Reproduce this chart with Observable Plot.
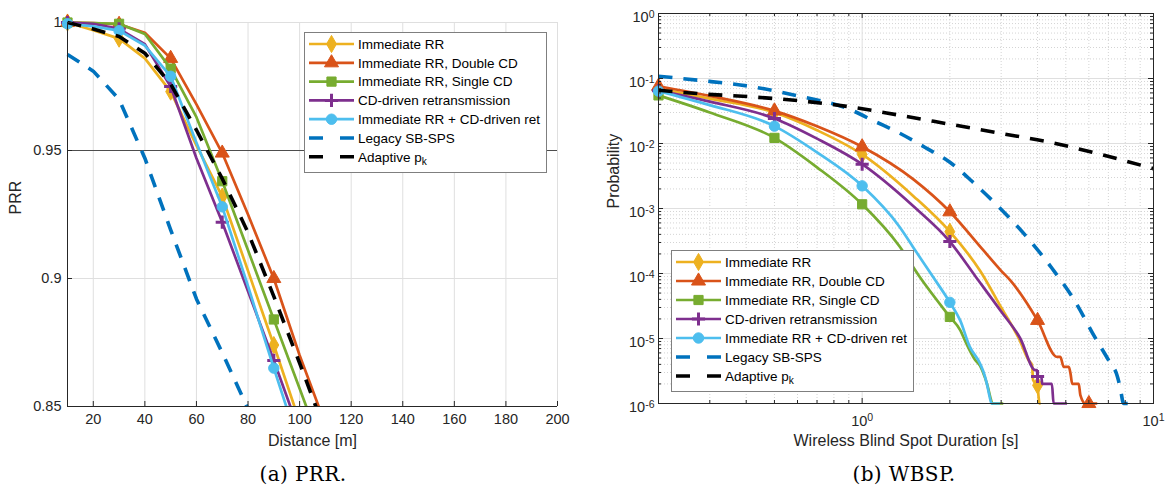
<!DOCTYPE html>
<html>
<head>
<meta charset="utf-8">
<script src="https://cdn.jsdelivr.net/npm/d3@7"></script>
<script src="https://cdn.jsdelivr.net/npm/@observablehq/plot@0.6"></script>
<style>
  html, body { margin: 0; padding: 0; background: #fff; }
  #page { position: relative; width: 1169px; height: 498px; overflow: hidden; }
  .panel { position: absolute; top: 0; }
  .caption {
    position: absolute; top: 474px; transform: translate(-50%, -50%);
    font-family: "DejaVu Serif", "Liberation Serif", serif; font-size: 20px; letter-spacing: 0.4px;
    color: #000; white-space: nowrap;
  }
</style>
</head>
<body>
<div id="page">
  <div class="panel" id="prr" style="left:0px"></div>
  <div class="panel" id="wbsp" style="left:580px"></div>
  <div class="caption" style="left:303px">(a) PRR.</div>
  <div class="caption" style="left:904px">(b) WBSP.</div>
</div>
<script>
// ---------------- Series styling (shared by both panels) ----------------
const seriesNames  = ["Immediate RR", "Immediate RR, Double CD", "Immediate RR, Single CD",
                      "CD-driven retransmission", "Immediate RR + CD-driven ret",
                      "Legacy SB-SPS", "Adaptive p_k"];
const seriesColors = ["#EDB120", "#D95319", "#77AC30", "#7E2F8E", "#4DBEEE", "#0072BD", "#000000"];
const seriesSymbols = ["diamond", "triangle", "square", "plus", "circle", null, null];
const seriesDashed  = [false, false, false, false, false, true, true];

// ---------------- (a) Packet reception ratio vs distance ----------------
const distance = [10, 20, 30, 40, 50, 60, 70, 80, 90, 100, 110];
const prrImmediateRR   = [1.0, 0.997, 0.9937, 0.986, 0.973, 0.952, 0.932, 0.903, 0.874, 0.844];
const prrDoubleCD      = [1.0, 0.9998, 0.9993, 0.996, 0.986, 0.968, 0.949, 0.925, 0.900, 0.870, 0.843];
const prrSingleCD      = [1.0, 0.9998, 0.9995, 0.9955, 0.982, 0.963, 0.938, 0.911, 0.884, 0.857, 0.830];
const prrCDDriven      = [1.0, 0.9995, 0.9975, 0.9915, 0.975, 0.947, 0.922, 0.895, 0.868, 0.840];
const prrImmediateCD   = [0.9995, 0.9985, 0.9968, 0.991, 0.979, 0.953, 0.928, 0.897, 0.865, 0.834];
const prrLegacy        = [0.9875, 0.981, 0.970, 0.947, 0.919, 0.892, 0.871, 0.849];
const prrAdaptive      = [1.0, 0.9975, 0.9945, 0.988, 0.976, 0.958, 0.939, 0.918, 0.893, 0.867, 0.840];
const prrMarkerDistances = [10, 30, 50, 70, 90];
const prrXTicks = [20, 40, 60, 80, 100, 120, 140, 160, 180, 200];
const prrYTicks = [0.85, 0.9, 0.95, 1];
const prrYTickLabels = ["0.85", "0.9", "0.95", "1"];

// ---------------- (b) Wireless blind spot duration CCDF ----------------
const wbspTimeImmediateRR = [0.2, 0.3, 0.5, 0.7, 1, 1.5, 2, 2.54, 3, 3.45, 3.73, 3.83, 3.86, 4.0, 4.03, 4.06, 4.1];
const wbspProbImmediateRR = [0.070, 0.049, 0.030, 0.016, 0.0068, 0.00155, 0.00044, 1.1e-4, 3e-5, 1e-5, 4.6e-6, 3.9e-6, 2.3e-6, 1.9e-6, 1.3e-6, 1e-6, 1e-6];
const wbspTimeDoubleCD = [0.2, 0.3, 0.5, 0.7, 1, 1.5, 2, 2.6, 3, 3.22, 4, 4.67, 4.79, 4.92, 5.12, 5.19, 5.26, 5.54, 5.61, 5.84, 6, 6.41];
const wbspProbDoubleCD = [0.076, 0.054, 0.0318, 0.0184, 0.0089, 0.0028, 0.00089, 2.3e-4, 1.1e-4, 7.9e-5, 1.9e-5, 5.2e-6, 5.2e-6, 3.65e-6, 3.65e-6, 2.9e-6, 2.0e-6, 2.0e-6, 1.35e-6, 1e-6, 1e-6, 1e-6];
const wbspTimeSingleCD = [0.2, 0.3, 0.5, 0.7, 1, 1.345, 1.575, 2, 2.17, 2.28, 2.44, 2.54, 2.64, 2.7, 2.76, 2.8, 3.05];
const wbspProbSingleCD = [0.055, 0.030, 0.0122, 0.0043, 0.00116, 2.6e-4, 8.9e-5, 2.15e-5, 1.35e-5, 8.3e-6, 4.7e-6, 3.8e-6, 2.5e-6, 1.8e-6, 1.2e-6, 1e-6, 1e-6];
const wbspTimeCDDriven = [0.2, 0.3, 0.5, 0.7, 1, 1.5, 2, 2.45, 3, 3.49, 3.93, 3.98, 4.0, 4.12, 4.15, 4.48, 4.54, 5.05];
const wbspProbCDDriven = [0.065, 0.044, 0.0243, 0.0119, 0.0048, 0.00108, 0.00031, 9e-5, 2.6e-5, 1e-5, 3.26e-6, 3.26e-6, 2.6e-6, 2.6e-6, 2e-6, 2e-6, 1e-6, 1e-6];
const wbspTimeImmediateCD = [0.2, 0.3, 0.5, 0.7, 1, 1.345, 1.5, 1.75, 2, 2.17, 2.34, 2.54, 2.64, 2.68, 2.74, 2.78, 2.97];
const wbspProbImmediateCD = [0.064, 0.039, 0.0185, 0.0073, 0.00223, 5.2e-4, 2.5e-4, 8.9e-5, 3.6e-5, 1.9e-5, 7.5e-6, 4.1e-6, 2.6e-6, 2e-6, 1.26e-6, 1e-6, 1e-6];
const wbspTimeLegacy = [0.2, 0.275, 0.409, 0.608, 0.904, 1.103, 1.345, 1.64, 2.0, 2.44, 2.974, 3.628, 4.425, 5.397, 6.32, 7.01, 7.53, 7.68, 7.9, 8.47];
const wbspProbLegacy = [0.1085, 0.0938, 0.0761, 0.0535, 0.0337, 0.022, 0.0144, 0.00877, 0.00515, 0.00237, 0.00101, 3.89e-4, 1.3e-4, 3.63e-5, 1.01e-5, 4.63e-6, 2.54e-6, 1.78e-6, 1e-6, 1e-6];
const wbspTimeAdaptive = [0.2, 0.275, 0.409, 0.608, 0.904, 1.345, 2.0, 2.974, 4.425, 6.58, 10];
const wbspProbAdaptive = [0.0661, 0.0584, 0.0525, 0.0455, 0.0368, 0.0272, 0.0198, 0.0144, 0.0104, 0.0068, 0.0041];
const wbspMarkerTimes = [0.2, 0.5, 1, 2, 4, 6];
const wbspXTicks = [1, 10];
const wbspXTickLabels = ["10^0", "10^1"];
const wbspYTicks = [1, 1e-1, 1e-2, 1e-3, 1e-4, 1e-5, 1e-6];
const wbspYTickLabels = ["10^0", "10^-1", "10^-2", "10^-3", "10^-4", "10^-5", "10^-6"];

// ---------------- shared helpers ----------------
const AXIS = "#262626";
const GRID = "#dfdfdf";
const FONT = "'Liberation Sans', Arial, Helvetica, sans-serif";
const TICK_FONT = 14.5, LABEL_FONT = 16, LEGEND_FONT = 13.5;
const SOLID_W = 2.7, DASH_W = 3.6, DASH = "14,11";
const MARK_R = 5.2, PLUS_R = 4.3;

const d3Symbols = {diamond: d3.symbolDiamond, triangle: d3.symbolTriangle, square: d3.symbolSquare,
                   plus: d3.symbolPlus, circle: d3.symbolCircle};

function seriesMarks(rows, xKey, yKey, i, markerFilter, clip) {
  const color = seriesColors[i];
  const marks = [Plot.line(rows, {
    x: xKey, y: yKey, stroke: color, clip,
    strokeWidth: seriesDashed[i] ? DASH_W : SOLID_W,
    strokeDasharray: seriesDashed[i] ? DASH : null,
    curve: clip ? "linear" : "monotone-x", strokeLinejoin: "round", strokeLinecap: "butt"
  })];
  if (seriesSymbols[i]) {
    const markerRows = markerFilter(rows);
    const isPlus = seriesSymbols[i] === "plus";
    marks.push(Plot.dot(markerRows, {
      x: xKey, y: yKey, symbol: seriesSymbols[i], r: isPlus ? PLUS_R : MARK_R,
      fill: color, stroke: color, strokeWidth: isPlus ? 3 : 1
    }));
  }
  return marks;
}

// first row at each of the requested x values
function pickMarkers(key, positions) {
  return rows => positions.map(p => rows.find(r => Math.abs(r[key] - p) < 1e-9)).filter(Boolean);
}

function drawLegend(svgNode, x, y, w, h, rowTop, rowStep) {
  const g = d3.select(svgNode).append("g").attr("text-anchor", "start");
  g.append("rect").attr("x", x + 0.5).attr("y", y + 0.5).attr("width", w).attr("height", h)
    .attr("fill", "#fff").attr("stroke", "#7f7f7f").attr("stroke-width", 1);
  seriesNames.forEach((name, i) => {
    const cy = rowTop + i * rowStep;
    const x1 = x + 5, x2 = x + 50;
    g.append("line").attr("x1", x1).attr("x2", x2).attr("y1", cy).attr("y2", cy)
      .attr("stroke", seriesColors[i])
      .attr("stroke-width", seriesDashed[i] ? DASH_W : SOLID_W)
      .attr("stroke-dasharray", seriesDashed[i] ? "14,17" : null);
    if (seriesSymbols[i]) {
      const isPlus = seriesSymbols[i] === "plus";
      const r = isPlus ? PLUS_R : MARK_R;
      g.append("path")
        .attr("d", d3.symbol(d3Symbols[seriesSymbols[i]], r * r * Math.PI)())
        .attr("transform", `translate(${(x1 + x2) / 2},${cy})`)
        .attr("fill", seriesColors[i]).attr("stroke", seriesColors[i])
        .attr("stroke-width", isPlus ? 3 : 1);
    }
    const t = g.append("text").attr("x", x2 + 4).attr("y", cy).attr("dy", "0.35em")
      .attr("text-anchor", "start")
      .attr("font-size", LEGEND_FONT).attr("fill", "#000").attr("font-family", FONT);
    const [main, sub] = name.split("_");
    t.append("tspan").text(main);
    if (sub) t.append("tspan").attr("dy", "0.35em").attr("font-size", LEGEND_FONT * 0.75).text(sub);
  });
}

function superscriptTicks(svgNode, cls) {
  d3.select(svgNode).selectAll(`g.${cls} text`).each(function () {
    const [base, exp] = this.textContent.split("^");
    const t = d3.select(this);
    t.text(null);
    t.append("tspan").text(base);
    t.append("tspan").attr("dy", "-0.42em").attr("font-size", "10.5px").text(exp);
  });
}

// ---------------- panel (a) ----------------
const prrValues = [prrImmediateRR, prrDoubleCD, prrSingleCD, prrCDDriven, prrImmediateCD, prrLegacy, prrAdaptive];
const prrRows = prrValues.map(vals => vals.map((v, j) => ({distance: distance[j], prr: v})));

const A = {width: 580, height: 455, left: 67, right: 23, top: 22, bottom: 49};
const aW = A.width - A.left - A.right, aH = A.height - A.top - A.bottom;

const prrPlot = Plot.plot({
  width: A.width, height: A.height,
  marginLeft: A.left, marginRight: A.right, marginTop: A.top, marginBottom: A.bottom,
  style: {fontFamily: FONT, background: "#fff", overflow: "visible"},
  x: {domain: [10, 200], axis: null},
  y: {domain: [0.85, 1], axis: null},
  marks: [
    Plot.ruleX(prrXTicks, {stroke: GRID, strokeWidth: 1}),
    Plot.ruleY([0.9, 1], {stroke: GRID, strokeWidth: 1}),
    Plot.ruleY([0.95], {stroke: "#4d4d4d", strokeWidth: 1}),
    ...prrRows.flatMap((rows, i) => seriesMarks(rows, "distance", "prr", i,
        pickMarkers("distance", prrMarkerDistances), true)),
    Plot.ruleX([10], {stroke: AXIS, strokeWidth: 1}),
    Plot.ruleY([0.85], {stroke: AXIS, strokeWidth: 1}),
    Plot.ruleX(prrXTicks, {stroke: AXIS, insetTop: aH - 5}),
    Plot.ruleY(prrYTicks, {stroke: AXIS, insetRight: aW - 5}),
    Plot.text(prrXTicks, {x: d => d, text: d => String(d), frameAnchor: "bottom", dy: 17,
      fontSize: TICK_FONT, fill: AXIS}),
    Plot.text(prrYTicks.map((v, i) => ({v, l: prrYTickLabels[i]})), {y: "v", text: "l",
      frameAnchor: "left", dx: -6, textAnchor: "end", fontSize: TICK_FONT, fill: AXIS}),
    Plot.text(["Distance [m]"], {text: d => d, frameAnchor: "bottom", dy: 39, fontSize: LABEL_FONT, fill: AXIS}),
    Plot.text(["PRR"], {text: d => d, frameAnchor: "left", dx: -52, rotate: -90, fontSize: LABEL_FONT, fill: AXIS})
  ]
});
// let lines keep their full stroke width where they meet the top and left edges
d3.select(prrPlot).selectAll("clipPath rect").each(function () {
  const r = d3.select(this);
  r.attr("x", +r.attr("x") - 10).attr("y", +r.attr("y") - 10)
   .attr("width", +r.attr("width") + 10).attr("height", +r.attr("height") + 10);
});
drawLegend(prrPlot, 304, 32, 242, 140, 44, 18.8);
document.getElementById("prr").appendChild(prrPlot);

// ---------------- panel (b) ----------------
const wbspTimes = [wbspTimeImmediateRR, wbspTimeDoubleCD, wbspTimeSingleCD, wbspTimeCDDriven,
                   wbspTimeImmediateCD, wbspTimeLegacy, wbspTimeAdaptive];
const wbspProbs = [wbspProbImmediateRR, wbspProbDoubleCD, wbspProbSingleCD, wbspProbCDDriven,
                   wbspProbImmediateCD, wbspProbLegacy, wbspProbAdaptive];
const wbspRows = wbspTimes.map((ts, i) => ts.map((t, j) => ({time: t, prob: wbspProbs[i][j]})));

const wbspXMinor = [0.3, 0.4, 0.5, 0.6, 0.7, 0.8, 0.9, 2, 3, 4, 5, 6, 7, 8, 9];
const wbspYMinor = d3.range(-6, 0).flatMap(e => d3.range(2, 10).map(k => k * Math.pow(10, e)));

const B = {width: 589, height: 455, left: 78, right: 16, top: 13, bottom: 52};
const bW = B.width - B.left - B.right, bH = B.height - B.top - B.bottom;

const wbspPlot = Plot.plot({
  width: B.width, height: B.height,
  marginLeft: B.left, marginRight: B.right, marginTop: B.top, marginBottom: B.bottom,
  style: {fontFamily: FONT, background: "#fff", overflow: "visible"},
  x: {type: "log", domain: [0.2, 10], axis: null},
  y: {type: "log", domain: [1e-6, 1], axis: null},
  marks: [
    Plot.ruleX(wbspXMinor, {stroke: "#d4d4d4", strokeWidth: 1, strokeDasharray: "1,2"}),
    Plot.ruleY(wbspYMinor, {stroke: "#d4d4d4", strokeWidth: 1, strokeDasharray: "1,2"}),
    Plot.ruleX([1], {stroke: GRID, strokeWidth: 1}),
    Plot.ruleY(wbspYTicks, {stroke: GRID, strokeWidth: 1}),
    ...wbspRows.flatMap((rows, i) => seriesMarks(rows, "time", "prob", i,
        pickMarkers("time", wbspMarkerTimes), false)),
    Plot.frame({stroke: AXIS, strokeWidth: 1}),
    // inward ticks on all four sides
    Plot.ruleX(wbspXTicks, {stroke: AXIS, insetTop: bH - 5}),
    Plot.ruleX(wbspXTicks, {stroke: AXIS, insetBottom: bH - 5}),
    Plot.ruleX(wbspXMinor, {stroke: AXIS, insetTop: bH - 3}),
    Plot.ruleX(wbspXMinor, {stroke: AXIS, insetBottom: bH - 3}),
    Plot.ruleY(wbspYTicks, {stroke: AXIS, insetRight: bW - 5}),
    Plot.ruleY(wbspYTicks, {stroke: AXIS, insetLeft: bW - 5}),
    Plot.ruleY(wbspYMinor, {stroke: AXIS, insetRight: bW - 3}),
    Plot.ruleY(wbspYMinor, {stroke: AXIS, insetLeft: bW - 3}),
    Plot.text(wbspXTicks.map((v, i) => ({v, l: wbspXTickLabels[i]})), {x: "v", text: "l",
      frameAnchor: "bottom", dy: 22, fontSize: TICK_FONT, fill: AXIS, className: "sup-x"}),
    Plot.text(wbspYTicks.map((v, i) => ({v, l: wbspYTickLabels[i]})), {y: "v", text: "l",
      frameAnchor: "left", dx: -4, dy: 4, textAnchor: "end", fontSize: TICK_FONT, fill: AXIS, className: "sup-y"}),
    Plot.text(["Wireless Blind Spot Duration [s]"], {text: d => d, frameAnchor: "bottom", dy: 42,
      fontSize: LABEL_FONT, fill: AXIS}),
    Plot.text(["Probability"], {text: d => d, frameAnchor: "left", dx: -45, rotate: -90,
      fontSize: LABEL_FONT, fill: AXIS})
  ]
});
superscriptTicks(wbspPlot, "sup-x");
superscriptTicks(wbspPlot, "sup-y");
drawLegend(wbspPlot, 91, 250, 242, 141, 262, 19);
document.getElementById("wbsp").appendChild(wbspPlot);
</script>
</body>
</html>
